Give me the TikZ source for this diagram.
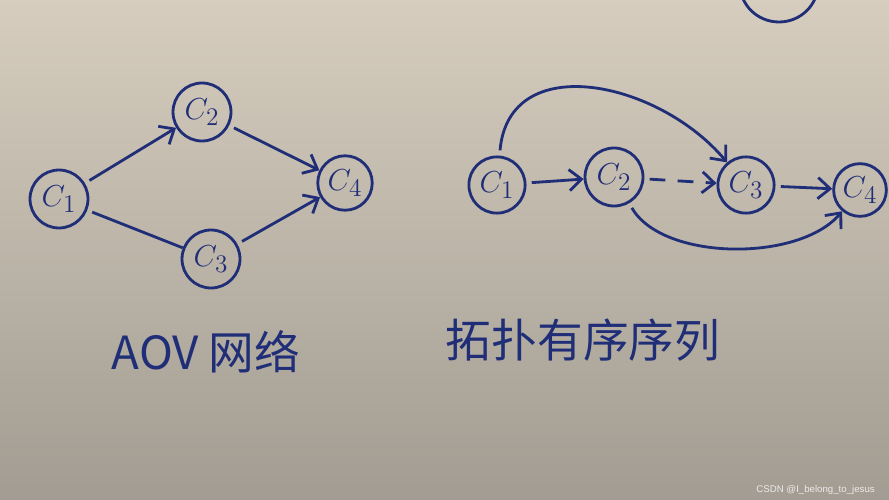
\documentclass[tikz,border=0pt]{standalone}
\usepackage{fontspec}
\setsansfont{Liberation Sans}
\newfontfamily\cjk{Noto Sans CJK SC}
\usetikzlibrary{arrows.meta}
\definecolor{ink}{RGB}{32,46,120}
\definecolor{paperlight}{RGB}{214,205,190}
\definecolor{paperdark}{RGB}{162,156,146}

\begin{document}
\begin{tikzpicture}[
        x=0.02cm, y=-0.02cm,
        line width=1.6pt,
        vertex/.style={
            circle,
            draw=ink,
            minimum size=33pt,
            inner sep=0pt,
            text=ink,
            font=\fontsize{19}{19}\selectfont
        },
        edgearrow/.style={draw=ink, shorten <=3pt, -{Straight Barb[length=7pt,width=12pt]}},
        caption/.style={text=ink, font=\cjk\fontsize{26}{30}\selectfont}
    ]
        % Paper
        \useasboundingbox (0,0) rectangle (889,500);
        \clip (0,0) rectangle (889,500);
        \shade[top color=paperlight, bottom color=paperdark] (0,0) rectangle (889,500);
        \draw[ink] (779,-16) circle [x radius=39, y radius=38];

        % AOV network (a1-a2-a3-a4)
        \node[vertex] (a1) at (59,199) {$C_1$};
        \node[vertex] (a2) at (202,112) {$C_2$};
        \node[vertex] (a3) at (211,259) {$C_3$};
        \node[vertex, minimum size=31pt] (a4) at (345,183) {$C_4$};

        % Topological order (t1-t2-t3-t4)
        \node[vertex, minimum size=32pt] (t1) at (497,185) {$C_1$};
        \node[vertex] (t2) at (614,177) {$C_2$};
        \node[vertex, minimum size=32pt] (t3) at (746,185) {$C_3$};
        \node[vertex, minimum size=30pt] (t4) at (860,190) {$C_4$};

        % Edges
        \draw[edgearrow] (a1) -- (a2);
        \draw[edgearrow] (a2) -- (a4);
        \draw[ink, shorten <=3pt] (a1) -- (a3);
        \draw[edgearrow] (a3) -- (a4);
        \draw[edgearrow] (t1) -- (t2);
        \draw[edgearrow, dash pattern=on 9pt off 7pt] (t2) -- (t3);
        \draw[edgearrow] (t3) -- (t4);
        \draw[edgearrow] (t1) to[out=85, in=130, looseness=1.2] (t3);
        \draw[edgearrow] (t2) to[out=-60, in=-130, looseness=0.8] (t4);

        % Captions
        \node[caption] (aov) at (206,352) {AOV 网络};
        \node[caption] (topo) at (583,340) {拓扑有序序列};
        \node[anchor=east, text=white, opacity=0.8, font=\sffamily\fontsize{5.5}{6}\selectfont] (mark) at (882,490) {CSDN @I\_belong\_to\_jesus};
    \end{tikzpicture}
\end{document}
